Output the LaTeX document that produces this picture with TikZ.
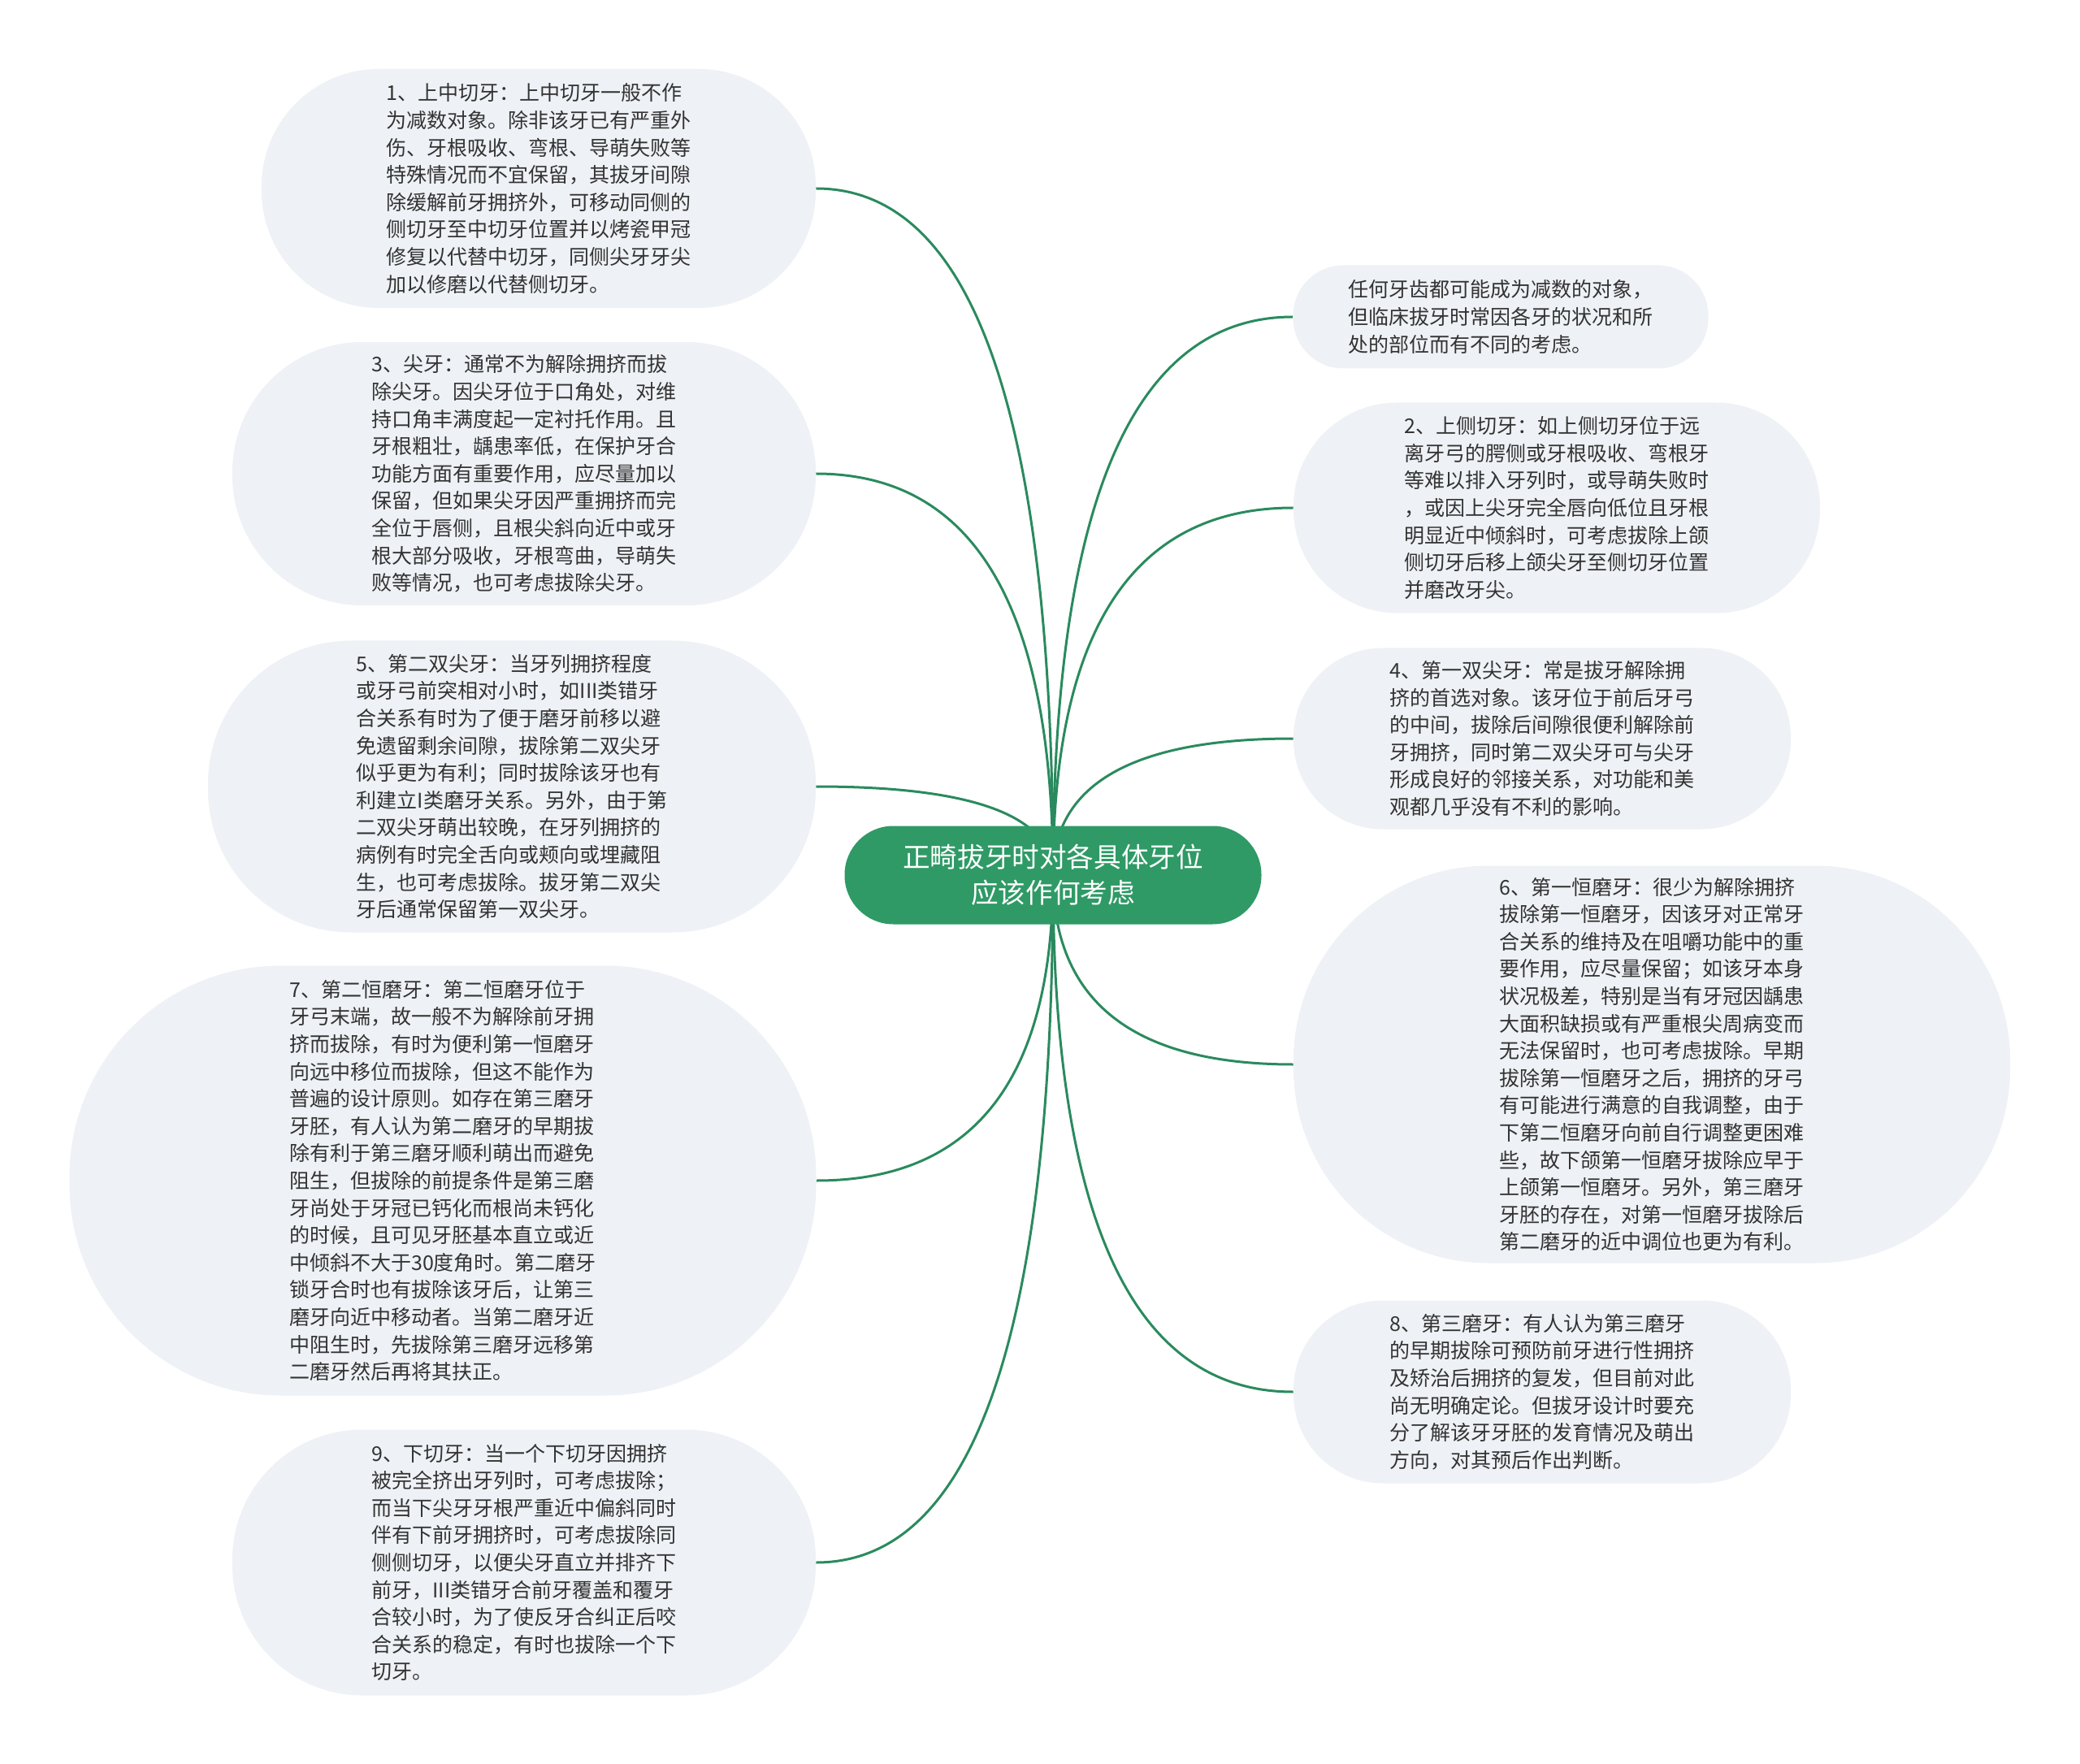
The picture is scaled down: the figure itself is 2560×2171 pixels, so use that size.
\documentclass[tikz,border=0pt]{standalone}
\usepackage{fontspec}
\setmainfont{Noto Sans CJK SC}
\usetikzlibrary{calc}
\pgfdeclarelayer{bg}
\pgfsetlayers{bg,main}
\definecolor{bubblefill}{HTML}{EEF1F5}
\definecolor{textcol}{HTML}{333333}
\definecolor{conncol}{HTML}{2A8A5E}
\definecolor{rootfill}{HTML}{2F9A66}
\newcommand{\mmlink}[1]{%
  \draw[conn] (c.center) .. controls ($(c.center)!0.667!(c.center |- #1)$) and ($(#1)!0.667!(c.center |- #1)$) .. (#1);}
\begin{document}
\begin{tikzpicture}[x=0.5pt,y=-0.5pt,
  bubble/.style={fill=bubblefill, draw=none, align=left, text=textcol,
    font=\fontsize{12.5pt}{16.8pt}\selectfont, inner sep=0pt},
  rootbox/.style={fill=rootfill, draw=none, align=center, text=white,
    font=\fontsize{16.8pt}{22pt}\selectfont, inner sep=0pt,
    minimum width=256.5pt, minimum height=60.5pt, rounded corners=30pt},
  conn/.style={draw=conncol, line width=1.5pt}]
\path[use as bounding box] (0,0) rectangle (2560,2171);

\node[rootbox] (c) at (1296,1077) {正畸拔牙时对各具体牙位\\应该作何考虑};

\node[bubble, minimum width=341pt, minimum height=147pt, rounded corners=72pt] (n1) at (663,232) {1、上中切牙：上中切牙一般不作\\为减数对象。除非该牙已有严重外\\伤、牙根吸收、弯根、导萌失败等\\特殊情况而不宜保留，其拔牙间隙\\除缓解前牙拥挤外，可移动同侧的\\侧切牙至中切牙位置并以烤瓷甲冠\\修复以代替中切牙，同侧尖牙牙尖\\加以修磨以代替侧切牙。};

\node[bubble, minimum width=359pt, minimum height=162pt, rounded corners=80pt] (n3) at (645,583) {3、尖牙：通常不为解除拥挤而拔\\除尖牙。因尖牙位于口角处，对维\\持口角丰满度起一定衬托作用。且\\牙根粗壮，龋患率低，在保护牙合\\功能方面有重要作用，应尽量加以\\保留，但如果尖牙因严重拥挤而完\\全位于唇侧，且根尖斜向近中或牙\\根大部分吸收，牙根弯曲，导萌失\\败等情况，也可考虑拔除尖牙。};

\node[bubble, minimum width=374pt, minimum height=179.5pt, rounded corners=88pt] (n5) at (630,968) {5、第二双尖牙：当牙列拥挤程度\\或牙弓前突相对小时，如III类错牙\\合关系有时为了便于磨牙前移以避\\免遗留剩余间隙，拔除第二双尖牙\\似乎更为有利；同时拔除该牙也有\\利建立I类磨牙关系。另外，由于第\\二双尖牙萌出较晚，在牙列拥挤的\\病例有时完全舌向或颊向或埋藏阻\\生，也可考虑拔除。拔牙第二双尖\\牙后通常保留第一双尖牙。};

\node[bubble, minimum width=459.5pt, minimum height=264.5pt, rounded corners=130pt] (n7) at (545,1453) {7、第二恒磨牙：第二恒磨牙位于\\牙弓末端，故一般不为解除前牙拥\\挤而拔除，有时为便利第一恒磨牙\\向远中移位而拔除，但这不能作为\\普遍的设计原则。如存在第三磨牙\\牙胚，有人认为第二磨牙的早期拔\\除有利于第三磨牙顺利萌出而避免\\阻生，但拔除的前提条件是第三磨\\牙尚处于牙冠已钙化而根尚未钙化\\的时候，且可见牙胚基本直立或近\\中倾斜不大于30度角时。第二磨牙\\锁牙合时也有拔除该牙后，让第三\\磨牙向近中移动者。当第二磨牙近\\中阻生时，先拔除第三磨牙远移第\\二磨牙然后再将其扶正。};

\node[bubble, minimum width=359pt, minimum height=163.5pt, rounded corners=80pt] (n9) at (645,1923) {9、下切牙：当一个下切牙因拥挤\\被完全挤出牙列时，可考虑拔除；\\而当下尖牙牙根严重近中偏斜同时\\伴有下前牙拥挤时，可考虑拔除同\\侧侧切牙，以便尖牙直立并排齐下\\前牙，III类错牙合前牙覆盖和覆牙\\合较小时，为了使反牙合纠正后咬\\合关系的稳定，有时也拔除一个下\\切牙。};

\node[bubble, minimum width=255.5pt, minimum height=63.5pt, rounded corners=31pt] (n0) at (1847,390) {任何牙齿都可能成为减数的对象，\\但临床拔牙时常因各牙的状况和所\\处的部位而有不同的考虑。};

\node[bubble, minimum width=324pt, minimum height=129.5pt, rounded corners=64pt] (n2) at (1916,625) {2、上侧切牙：如上侧切牙位于远\\离牙弓的腭侧或牙根吸收、弯根牙\\等难以排入牙列时，或导萌失败时\\，或因上尖牙完全唇向低位且牙根\\明显近中倾斜时，可考虑拔除上颌\\侧切牙后移上颌尖牙至侧切牙位置\\并磨改牙尖。};

\node[bubble, minimum width=306pt, minimum height=111.5pt, rounded corners=55pt] (n4) at (1898,909) {4、第一双尖牙：常是拔牙解除拥\\挤的首选对象。该牙位于前后牙弓\\的中间，拔除后间隙很便利解除前\\牙拥挤，同时第二双尖牙可与尖牙\\形成良好的邻接关系，对功能和美\\观都几乎没有不利的影响。};

\node[bubble, minimum width=441pt, minimum height=244.5pt, rounded corners=120pt] (n6) at (2033,1310) {6、第一恒磨牙：很少为解除拥挤\\拔除第一恒磨牙，因该牙对正常牙\\合关系的维持及在咀嚼功能中的重\\要作用，应尽量保留；如该牙本身\\状况极差，特别是当有牙冠因龋患\\大面积缺损或有严重根尖周病变而\\无法保留时，也可考虑拔除。早期\\拔除第一恒磨牙之后，拥挤的牙弓\\有可能进行满意的自我调整，由于\\下第二恒磨牙向前自行调整更困难\\些，故下颌第一恒磨牙拔除应早于\\上颌第一恒磨牙。另外，第三磨牙\\牙胚的存在，对第一恒磨牙拔除后\\第二磨牙的近中调位也更为有利。};

\node[bubble, minimum width=306pt, minimum height=112.5pt, rounded corners=55pt] (n8) at (1898,1713) {8、第三磨牙：有人认为第三磨牙\\的早期拔除可预防前牙进行性拥挤\\及矫治后拥挤的复发，但目前对此\\尚无明确定论。但拔牙设计时要充\\分了解该牙牙胚的发育情况及萌出\\方向，对其预后作出判断。};

\begin{pgfonlayer}{bg}
\fill[white] (0,0) rectangle (2560,2171);
\mmlink{n1.east}
\mmlink{n3.east}
\mmlink{n5.east}
\mmlink{n7.east}
\mmlink{n9.east}
\mmlink{n0.west}
\mmlink{n2.west}
\mmlink{n4.west}
\mmlink{n6.west}
\mmlink{n8.west}
\end{pgfonlayer}
\end{tikzpicture}
\end{document}
